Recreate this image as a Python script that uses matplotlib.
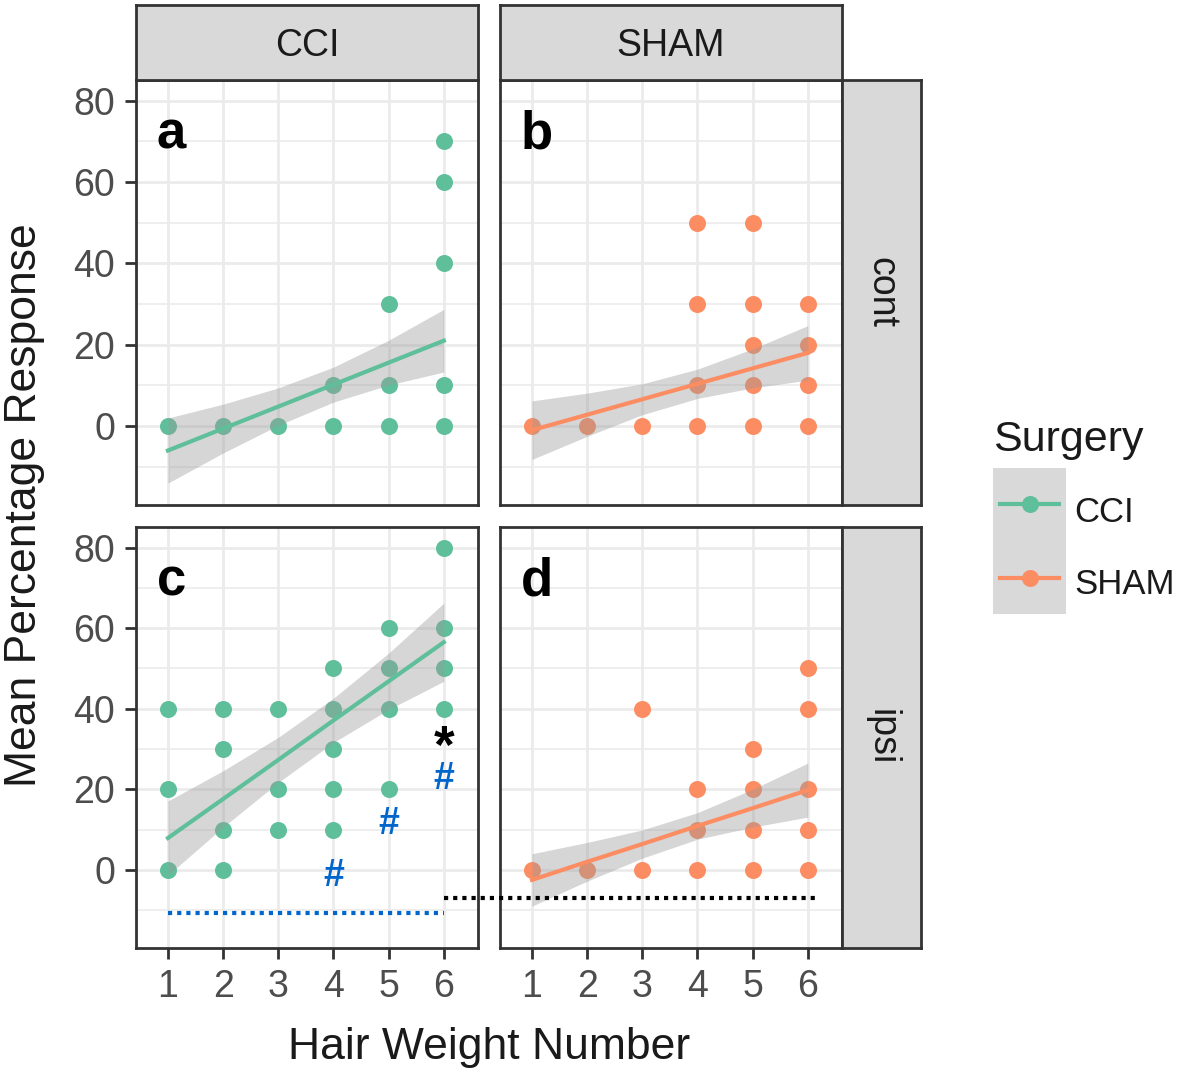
import numpy as np
import matplotlib
matplotlib.use("Agg")
import matplotlib.pyplot as plt
from matplotlib.lines import Line2D
from matplotlib.patches import Rectangle

plt.rcParams['font.family'] = ['Liberation Sans', 'DejaVu Sans']

# ---- data ----
hair = [1, 2, 3, 4, 5, 6]
surgeries = ['CCI', 'SHAM']
sides = ['cont', 'ipsi']
colors = {'CCI': '#5fbf9b', 'SHAM': '#fc8d62'}

# observed (distinct) responses per hair weight
cci_cont = {1: [0], 2: [0], 3: [0], 4: [0, 10], 5: [0, 10, 30], 6: [0, 10, 40, 60, 70]}
sham_cont = {1: [0], 2: [0], 3: [0], 4: [0, 10, 30, 50], 5: [0, 10, 20, 30, 50], 6: [0, 10, 20, 30]}
cci_ipsi = {1: [0, 20, 40], 2: [0, 10, 30, 40], 3: [10, 20, 40], 4: [10, 20, 30, 40, 50],
            5: [20, 40, 50, 60], 6: [40, 50, 60, 80]}
sham_ipsi = {1: [0], 2: [0], 3: [0, 40], 4: [0, 10, 20], 5: [0, 10, 20, 30], 6: [0, 10, 20, 40, 50]}

# linear fit and confidence half-width at x = 1..6
fit_cci_cont = [-6.0, -0.6, 4.8, 10.2, 15.6, 21.0]
hw_cci_cont = [8.0, 6.0, 4.6, 4.3, 5.5, 7.7]
fit_sham_cont = [-1.0, 2.8, 6.6, 10.4, 14.2, 18.0]
hw_sham_cont = [7.2, 5.3, 3.8, 3.6, 4.8, 6.7]
fit_cci_ipsi = [7.9, 17.6, 27.3, 37.1, 46.8, 56.5]
hw_cci_ipsi = [9.2, 7.0, 5.6, 5.5, 7.0, 9.7]
fit_sham_ipsi = [-2.5, 2.0, 6.4, 10.9, 15.3, 19.8]
hw_sham_ipsi = [6.5, 4.8, 3.5, 3.3, 4.7, 6.7]

panels = {
    ('cont', 'CCI'): ('a', cci_cont, fit_cci_cont, hw_cci_cont),
    ('cont', 'SHAM'): ('b', sham_cont, fit_sham_cont, hw_sham_cont),
    ('ipsi', 'CCI'): ('c', cci_ipsi, fit_cci_ipsi, hw_cci_ipsi),
    ('ipsi', 'SHAM'): ('d', sham_ipsi, fit_sham_ipsi, hw_sham_ipsi),
}

# significance marks in panel c
hash_x = [4, 5, 6]
hash_y = [-1.5, 11.5, 22.5]
star_x, star_y = 6, 30
blue_line_y = -10.6
black_line_y = -7

W, H = 1181, 1078
fig = plt.figure(figsize=(W / 100, H / 100), dpi=100)


def px(x0, y0, x1, y1):
    return [x0 / W, 1 - y1 / H, (x1 - x0) / W, (y1 - y0) / H]


col_x = {'CCI': (136, 478), 'SHAM': (500, 842)}
row_y = {'cont': (80, 505), 'ipsi': (527, 948)}
border = '#333333'
tick_col = '#4d4d4d'
dots = (0, (1, 1.2))

axes = {}
for side in sides:
    for surg in surgeries:
        x0, x1 = col_x[surg]
        y0, y1 = row_y[side]
        ax = fig.add_axes(px(x0, y0, x1, y1))
        axes[(side, surg)] = ax
        lab, pts, fit, hw = panels[(side, surg)]
        c = colors[surg]
        for h in hair:
            ax.scatter([h] * len(pts[h]), pts[h], s=150, color=c, zorder=3, linewidths=0)
        fit = np.array(fit)
        hw = np.array(hw)
        ax.fill_between(hair, fit - hw, fit + hw, color='#999999', alpha=0.4, lw=0, zorder=4)
        ax.plot(hair, fit, color=c, lw=3, zorder=5)
        ax.text(0.06, 0.93, lab, transform=ax.transAxes, fontsize=38, fontweight='bold',
                va='top', ha='left', zorder=6)
        ax.set_xlim(0.42, 6.62)
        ax.set_ylim(-19.4, 85.1)
        ax.set_xticks(hair)
        ax.set_yticks([0, 20, 40, 60, 80])
        ax.set_yticks([-10, 10, 30, 50, 70], minor=True)
        ax.grid(True, which='major', color='#ebebeb', lw=2, zorder=0)
        ax.grid(True, which='minor', axis='y', color='#ebebeb', lw=1.2, zorder=0)
        ax.set_axisbelow(True)
        for sp in ax.spines.values():
            sp.set_color(border)
            sp.set_linewidth(2)
        ax.tick_params(which='major', length=8, width=2, color=border, labelsize=27,
                       labelcolor=tick_col, pad=7)
        ax.tick_params(which='minor', length=0)
        if surg != 'CCI':
            ax.tick_params(axis='y', labelleft=False, length=0)
        if side != 'ipsi':
            ax.tick_params(axis='x', labelbottom=False, length=0)

# top strips
for surg in surgeries:
    x0, x1 = col_x[surg]
    sax = fig.add_axes(px(x0, 5, x1, 80))
    sax.set_facecolor('#d9d9d9')
    sax.set_xticks([]); sax.set_yticks([])
    for sp in sax.spines.values():
        sp.set_color(border); sp.set_linewidth(2)
    sax.text(0.5, 0.45, surg, ha='center', va='center', fontsize=27, color='#1a1a1a')

# right strips
for side in sides:
    y0, y1 = row_y[side]
    sax = fig.add_axes(px(842, y0, 921, y1))
    sax.set_facecolor('#d9d9d9')
    sax.set_xticks([]); sax.set_yticks([])
    for sp in sax.spines.values():
        sp.set_color(border); sp.set_linewidth(2)
    sax.text(0.5, 0.5, side, ha='center', va='center', fontsize=27, color='#1a1a1a', rotation=-90)

# annotations in panel c
axc = axes[('ipsi', 'CCI')]
for hx, hy in zip(hash_x, hash_y):
    axc.text(hx, hy, '#', color='#0066cc', fontsize=27, fontweight='bold', ha='center', va='center', zorder=6)
axc.text(star_x, star_y, '*', color='black', fontsize=38, fontweight='bold', ha='center', va='center', zorder=6)
axc.plot([1, 6], [blue_line_y, blue_line_y], color='#0066cc', lw=3, ls=dots, zorder=6)

# black dotted line running from panel c into panel d
axd = axes[('ipsi', 'SHAM')]
to_fig = fig.transFigure.inverted()
pa = to_fig.transform(axc.transData.transform((6, black_line_y)))
pb = to_fig.transform(axd.transData.transform((6.2, black_line_y)))
fig.add_artist(Line2D([pa[0], pb[0]], [pa[1], pb[1]], transform=fig.transFigure,
                      color='black', lw=3, ls=dots, zorder=10))

# axis titles
fig.text((136 + 842) / 2 / W, 1 - 1048 / H, 'Hair Weight Number', ha='center',
         va='center', fontsize=32, color='#1a1a1a')
fig.text(25 / W, 1 - 505 / H, 'Mean Percentage Response', ha='center', va='center',
         rotation=90, fontsize=32, color='#1a1a1a')

# legend
fig.text(993 / W, 1 - 440 / H, 'Surgery', ha='left', va='center', fontsize=31, color='#1a1a1a')
lax = fig.add_axes(px(993, 468, 1066, 614))
lax.set_xlim(0, 1); lax.set_ylim(0, 2)
lax.add_patch(Rectangle((0, 0), 1, 2, color='#d9d9d9', lw=0))
lax.axis('off')
for i, surg in enumerate(surgeries):
    yy = 1.5 - i
    lax.plot([0.1, 0.9], [yy, yy], color=colors[surg], lw=3)
    lax.scatter([0.5], [yy], s=150, color=colors[surg], zorder=3, linewidths=0)
    fig.text(1074 / W, 1 - (512 + 72 * i) / H, surg, ha='left', va='center', fontsize=25, color='#1a1a1a')

fig.savefig('out.png', dpi=100)
